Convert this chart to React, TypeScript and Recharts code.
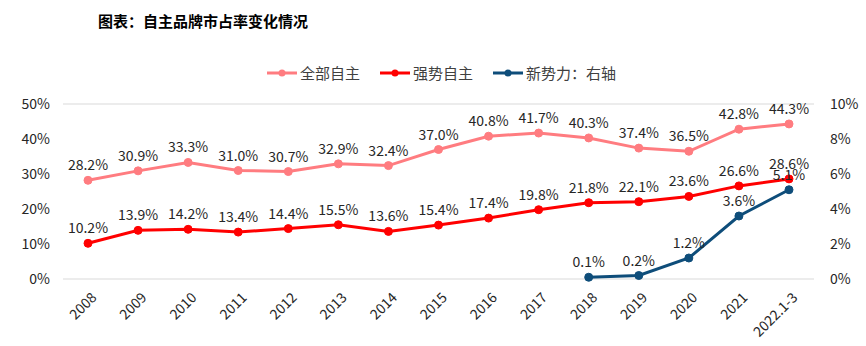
import { CartesianGrid, LabelList, Line, LineChart, XAxis, YAxis } from "recharts";

const YEARS = [
  "2008", "2009", "2010", "2011", "2012", "2013", "2014", "2015",
  "2016", "2017", "2018", "2019", "2020", "2021", "2022.1-3",
];
const ALL_OWN = [28.2, 30.9, 33.3, 31.0, 30.7, 32.9, 32.4, 37.0, 40.8, 41.7, 40.3, 37.4, 36.5, 42.8, 44.3];
const STRONG_OWN = [10.2, 13.9, 14.2, 13.4, 14.4, 15.5, 13.6, 15.4, 17.4, 19.8, 21.8, 22.1, 23.6, 26.6, 28.6];
const NEW_FORCE: (number | null)[] = [null, null, null, null, null, null, null, null, null, null, 0.1, 0.2, 1.2, 3.6, 5.1];
const LEFT_TICKS = [0, 10, 20, 30, 40, 50];
const RIGHT_TICKS = [0, 2, 4, 6, 8, 10];

const SERIES = [
  { key: "all", name: "全部自主", color: "#FF7C80", axis: "left" },
  { key: "strong", name: "强势自主", color: "#FF0000", axis: "left" },
  { key: "nev", name: "新势力：右轴", color: "#0E4D7A", axis: "right" },
];

const data = YEARS.map((year, i) => ({
  year,
  all: ALL_OWN[i],
  strong: STRONG_OWN[i],
  nev: NEW_FORCE[i],
}));

const FONT = "'Noto Sans CJK SC', 'Noto Sans', sans-serif";
const pct = (v: unknown) => (v == null ? "" : `${Number(v).toFixed(1)}%`);

/** rotated category label, Excel style */
function YearTick({ x, y, payload }: any) {
  return (
    <g transform={`translate(${x + 6},${y + 8})`}>
      <text
        textAnchor="end"
        transform="rotate(-45)"
        fontSize={14}
        fill="#262626"
        fontFamily={FONT}
        dy="0.35em"
      >
        {payload.value}
      </text>
    </g>
  );
}

function Legend() {
  return (
    <div
      style={{
        position: "absolute",
        top: 63,
        left: 267,
        display: "flex",
        gap: 20,
        fontFamily: FONT,
        fontSize: 15,
        color: "#404040",
        lineHeight: "20px",
      }}
    >
      {SERIES.map((s) => (
        <div key={s.key} style={{ display: "flex", alignItems: "center" }}>
          <svg width={30} height={10} style={{ marginRight: 3 }}>
            <line x1={0} y1={5} x2={30} y2={5} stroke={s.color} strokeWidth={3} />
            <circle cx={15} cy={5} r={3.5} fill={s.color} />
          </svg>
          <span>{s.name}</span>
        </div>
      ))}
    </div>
  );
}

export default function App() {
  const tick = { fontSize: 14, fill: "#262626", fontFamily: FONT };
  return (
    <div style={{ position: "absolute", left: 0, top: 0, width: 866, height: 346, background: "#fff" }}>
      <div
        style={{
          position: "absolute",
          top: 10,
          left: 98,
          fontFamily: FONT,
          fontWeight: 700,
          fontSize: 15,
          color: "#000",
        }}
      >
        图表：自主品牌市占率变化情况
      </div>
      <Legend />
      <LineChart
        width={866}
        height={346}
        data={data}
        margin={{ top: 104, right: 0, left: 0, bottom: 7 }}
      >
        <CartesianGrid stroke="#d9d9d9" vertical={false} />
        <XAxis
          dataKey="year"
          axisLine={false}
          tickLine={false}
          interval={0}
          height={60}
          padding={{ left: 25, right: 25 }}
          tick={<YearTick />}
        />
        <YAxis
          yAxisId="left"
          domain={[0, 50]}
          ticks={LEFT_TICKS}
          tickFormatter={(v) => `${v}%`}
          axisLine={false}
          tickLine={false}
          width={63}
          tickMargin={7}
          tick={tick}
        />
        <YAxis
          yAxisId="right"
          orientation="right"
          domain={[0, 10]}
          ticks={RIGHT_TICKS}
          tickFormatter={(v) => `${v}%`}
          axisLine={false}
          tickLine={false}
          width={52}
          tickMargin={10}
          tick={tick}
        />
        {SERIES.map((s) => (
          <Line
            key={s.key}
            yAxisId={s.axis}
            dataKey={s.key}
            name={s.name}
            stroke={s.color}
            strokeWidth={3}
            dot={{ r: 4, fill: s.color, stroke: s.color, strokeWidth: 1 }}
            isAnimationActive={false}
            connectNulls={false}
          >
            <LabelList
              dataKey={s.key}
              position="top"
              offset={10}
              formatter={pct}
              style={{ fontSize: 14, fill: "#262626", fontFamily: FONT }}
            />
          </Line>
        ))}
      </LineChart>
    </div>
  );
}
